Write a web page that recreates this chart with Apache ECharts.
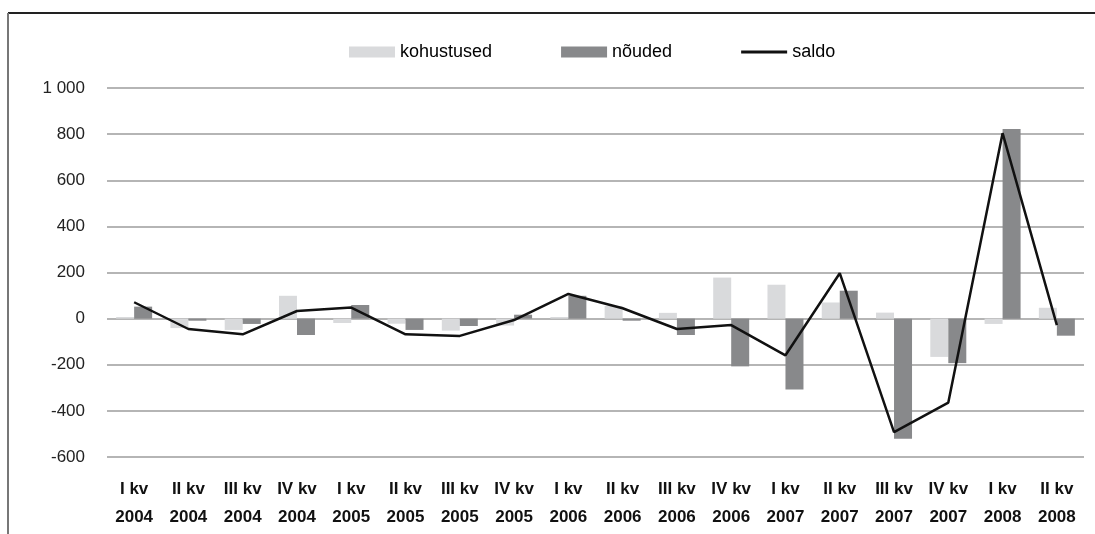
<!DOCTYPE html>
<html>
<head>
<meta charset="utf-8">
<script src="https://cdn.jsdelivr.net/npm/echarts@6/dist/echarts.min.js"></script>
<style>
html,body{margin:0;padding:0;background:#fff;}
#c{width:1095px;height:534px;}
</style>
</head>
<body>
<div id="c"></div>
<script>
var categories = ['I kv\n2004','II kv\n2004','III kv\n2004','IV kv\n2004','I kv\n2005','II kv\n2005','III kv\n2005','IV kv\n2005','I kv\n2006','II kv\n2006','III kv\n2006','IV kv\n2006','I kv\n2007','II kv\n2007','III kv\n2007','IV kv\n2007','I kv\n2008','II kv\n2008'];
var kohustused = [7, -41, -49, 99, -19, -22, -52, -30, 7, 55, 25, 178, 147, 70, 26, -166, -23, 47];
var nouded = [52, -9, -23, -71, 59, -49, -32, 17, 99, -9, -71, -207, -307, 121, -521, -193, 822, -74];
var saldo = [71, -45, -68, 33, 48, -68, -75, -6, 107, 45, -45, -28, -159, 197, -492, -364, 804, -28];

var chart = echarts.init(document.getElementById('c'), null, {renderer:'canvas'});
var font = "'Liberation Sans', Arial, Helvetica, sans-serif";
chart.setOption({
  animation: false,
  textStyle: {fontFamily: font},
  graphic: [
    {type:'line', shape:{x1:8, y1:13, x2:1095, y2:13}, style:{stroke:'#222', lineWidth:2}},
    {type:'line', shape:{x1:8, y1:13, x2:8, y2:534}, style:{stroke:'#777', lineWidth:2}}
  ],
  legend: {
    left: 344, top: 38,
    itemWidth: 46, itemHeight: 11, itemGap: 69,
    textStyle: {fontSize: 18, color:'#000', fontFamily: font},
    data: [
      {name:'kohustused', icon:'rect'},
      {name:'nõuded', icon:'rect'},
      {name:'saldo', icon:'path://M0,0H46V3H0Z', itemStyle:{color:'#111'}}
    ]
  },
  grid: {left:107, right:11, top:88, bottom:77},
  xAxis: {
    type:'category', data: categories,
    axisLine:{show:false}, axisTick:{show:false},
    axisLabel:{interval:0, margin:18, fontSize:17, fontWeight:'bold', color:'#111', lineHeight:28, fontFamily: font}
  },
  yAxis: {
    type:'value', min:-600, max:1000, interval:200,
    axisLine:{show:false}, axisTick:{show:false},
    splitLine:{lineStyle:{color:'#9c9c9c', width:1.5}},
    axisLabel:{margin:22, fontSize:17, color:'#222', fontFamily: font,
      formatter:function(v){ return v===1000 ? '1 000' : String(v); }}
  },
  series: [
    {name:'kohustused', type:'bar', data:kohustused, barWidth:18, barGap:'0%', itemStyle:{color:'#d9dadc'}},
    {name:'nõuded', type:'bar', data:nouded, barWidth:18, barGap:'0%', itemStyle:{color:'#88898b'}},
    {name:'saldo', type:'line', data:saldo, symbol:'none', lineStyle:{color:'#111', width:2.5}, itemStyle:{color:'#111'}, z:5}
  ]
});
</script>
</body>
</html>
